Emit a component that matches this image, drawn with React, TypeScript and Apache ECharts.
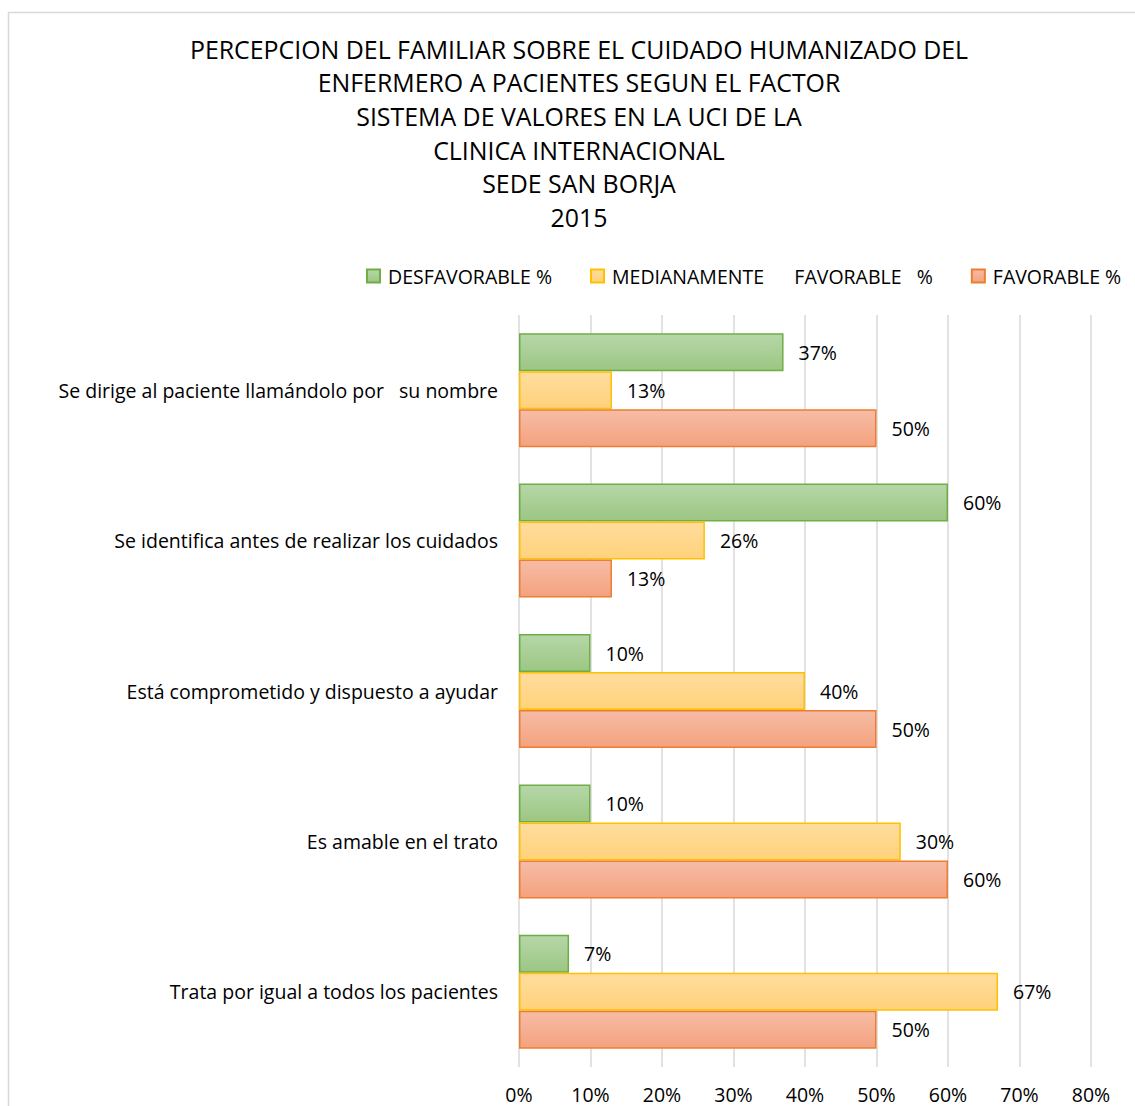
import React, { useEffect, useRef } from "react";
import * as echarts from "echarts";

const titleLines = [
  "PERCEPCION DEL FAMILIAR SOBRE EL CUIDADO HUMANIZADO DEL",
  "ENFERMERO A PACIENTES SEGUN EL FACTOR",
  "SISTEMA DE VALORES EN LA UCI DE LA",
  "CLINICA INTERNACIONAL",
  "SEDE SAN BORJA",
  "2015",
];

const categories = [
  "Se dirige al paciente llamándolo por   su nombre",
  "Se identifica antes de realizar los cuidados",
  "Está comprometido y dispuesto a ayudar",
  "Es amable en el trato",
  "Trata por igual a todos los pacientes",
];

const seriesNames = [
  "DESFAVORABLE %",
  "MEDIANAMENTE      FAVORABLE   %",
  "FAVORABLE %",
];

// bar lengths as drawn (percent)
const desfavorable = [37, 60, 10, 10, 7];
const medianamente = [13, 26, 40, 53.4, 67];
const favorable = [50, 13, 50, 60, 50];

// data labels as printed
const desfavorableLabels = ["37%", "60%", "10%", "10%", "7%"];
const medianamenteLabels = ["13%", "26%", "40%", "30%", "67%"];
const favorableLabels = ["50%", "13%", "50%", "60%", "50%"];

const xTicks = [0, 10, 20, 30, 40, 50, 60, 70, 80];

const FONT = "'Open Sans', sans-serif";
const FS = 19.5;

function grad(top: string, bottom: string) {
  return new echarts.graphic.LinearGradient(0, 0, 0, 1, [
    { offset: 0, color: top },
    { offset: 1, color: bottom },
  ]);
}

export default function App() {
  const ref = useRef<HTMLDivElement>(null);
  useEffect(() => {
    if (!ref.current) return;
    const chart = echarts.init(ref.current, null, { renderer: "svg" });
    const styles = [
      { fill: grad("#b6d7a8", "#9cc683"), border: "#70ad47" },
      { fill: grad("#ffdd9e", "#ffd27a"), border: "#ffc000" },
      { fill: grad("#f6bca6", "#f4a27e"), border: "#ed7d31" },
    ];
    const datas = [desfavorable, medianamente, favorable];
    const labels = [desfavorableLabels, medianamenteLabels, favorableLabels];
    chart.setOption({
      animation: false,
      textStyle: { fontFamily: FONT },
      graphic: [
        {
          type: "rect",
          shape: { x: 8.5, y: 12.5, width: 1140, height: 1110 },
          style: { fill: "none", stroke: "#d9d9d9", lineWidth: 1.5 },
          silent: true,
        },
        {
          type: "text",
          x: 579,
          y: 32,
          style: {
            text: titleLines.join("\n"),
            fontFamily: FONT,
            fontSize: 24.9,
            lineHeight: 33.6,
            fill: "#000",
            textAlign: "center",
            textVerticalAlign: "top",
          },
        },
      ],
      legend: {
        top: 266,
        left: 366,
        padding: 0,
        itemWidth: 13,
        itemHeight: 13,
        itemGap: 38,
        icon: "rect",
        textStyle: { fontFamily: FONT, fontSize: FS, color: "#000", padding: [0, 0, 0, 3] },
        data: seriesNames,
      },
      grid: { left: 519, right: 44, top: 315, bottom: 39, containLabel: false },
      xAxis: {
        type: "value",
        min: 0,
        max: 80,
        interval: 10,
        axisLine: { show: false },
        axisTick: { show: false },
        splitLine: { lineStyle: { color: "#d9d9d9", width: 1.5 } },
        axisLabel: {
          formatter: (v: number) => (xTicks.includes(v) ? v + "%" : ""),
          fontFamily: FONT,
          fontSize: FS,
          color: "#000",
          margin: 17,
        },
      },
      yAxis: {
        type: "category",
        inverse: true,
        data: categories,
        axisLine: { show: false },
        axisTick: { show: false },
        axisLabel: { fontFamily: FONT, fontSize: FS, color: "#000", margin: 21 },
      },
      series: seriesNames.map((name, i) => ({
        name,
        type: "bar",
        data: datas[i],
        barWidth: 38,
        barGap: "0%",
        itemStyle: { color: styles[i].fill, borderColor: styles[i].border, borderWidth: 1.5 },
        label: {
          show: true,
          position: "right",
          distance: 15,
          fontFamily: FONT,
          fontSize: FS,
          color: "#000",
          formatter: (p: any) => labels[i][p.dataIndex],
        },
      })),
    });
    return () => chart.dispose();
  }, []);
  return (
    <div
      ref={ref}
      style={{ position: "fixed", left: 0, top: 0, width: 1135, height: 1106, background: "#fff", whiteSpace: "pre" }}
    />
  );
}
